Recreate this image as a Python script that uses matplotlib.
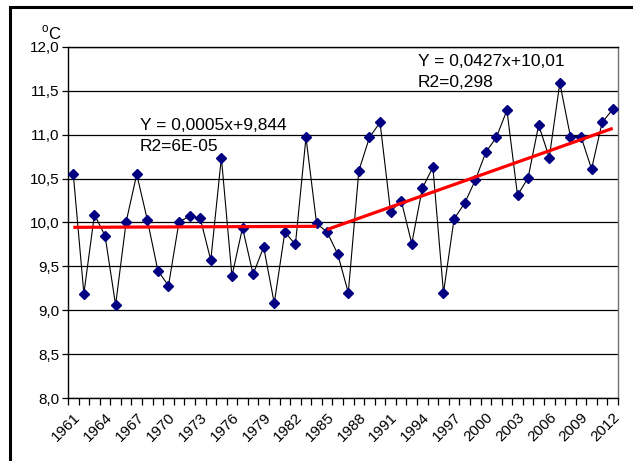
import matplotlib
matplotlib.use("Agg")
import matplotlib.pyplot as plt
from matplotlib.patches import Rectangle
import numpy as np

plt.rcParams['font.family'] = ['Liberation Sans', 'DejaVu Sans']
plt.rcParams['mathtext.fontset'] = 'custom'
plt.rcParams['mathtext.rm'] = 'Liberation Sans'

years = list(range(1961, 2013))
temps = [10.55, 9.19, 10.09, 9.85, 9.06, 10.01, 10.55, 10.03, 9.45, 9.28,
         10.01, 10.07, 10.05, 9.57, 10.74, 9.39, 9.94, 9.41, 9.72, 9.08,
         9.89, 9.75, 10.97, 9.99, 9.89, 9.64, 9.20, 10.59, 10.97, 11.14,
         10.12, 10.25, 9.76, 10.39, 10.63, 9.20, 10.04, 10.22, 10.48, 10.80,
         10.97, 11.28, 10.31, 10.51, 11.11, 10.74, 11.59, 10.98, 10.98, 10.61,
         11.14, 11.29]

# trend segments: (first year, last year, slope, value at first year)
trend1 = (1961, 1984, 0.0005, 9.945)
trend2 = (1985, 2012, 0.0427, 9.92)
eq1 = ["Y = 0,0005x+9,844", "R2=6E-05"]
eq2 = ["Y = 0,0427x+10,01", "R2=0,298"]

fig = plt.figure(figsize=(6.33, 4.61), dpi=100)
ax = fig.add_axes([68 / 633, 1 - 398 / 461, 550 / 633, 351 / 461])

x = np.arange(len(years))
ax.set_xlim(-0.5, len(years) - 0.5)
ax.set_ylim(8.0, 12.0)

yt = np.arange(8.0, 12.01, 0.5)
ax.set_yticks(yt)
ax.set_yticklabels([f"{v:.1f}".replace(".", ",") for v in yt], fontsize=11)
for v in yt:
    ax.axhline(v, color='black', lw=0.9, zorder=1)

# category ticks between points, labels every third year
ax.set_xticks(np.arange(-0.5, len(years), 1.0), minor=True)
ax.set_xticks(x[::3])
ax.set_xticklabels([str(y) for y in years[::3]], rotation=45, ha='right',
                   rotation_mode='anchor', fontsize=11)
ax.tick_params(axis='x', which='major', length=0, pad=9)
ax.tick_params(axis='x', which='minor', length=5, width=0.9, direction='out')
ax.tick_params(axis='y', length=4, width=0.9, direction='out', pad=2)

for side in ['left', 'bottom', 'top']:
    ax.spines[side].set_color('black')
    ax.spines[side].set_linewidth(1.0)
ax.spines['right'].set_color('#707070')
ax.spines['right'].set_linewidth(1.0)

ax.plot(x, temps, color='black', lw=0.8, zorder=3)
ax.plot(x, temps, linestyle='none', marker='D', markersize=5.5,
        color='#000080', zorder=4)

for y0, y1, slope, start in (trend1, trend2):
    seg = np.array([y0, y1])
    ax.plot(seg - years[0], start + slope * (seg - y0), color='red',
            lw=2.3, zorder=5, solid_capstyle='butt')

ax.text(6.3, 11.11, eq1[0], fontsize=12.5, va='center', ha='left')
ax.text(6.3, 10.87, eq1[1], fontsize=12.5, va='center', ha='left')
ax.text(32.6, 11.83, eq2[0], fontsize=12.5, va='center', ha='left')
ax.text(32.6, 11.59, eq2[1], fontsize=12.5, va='center', ha='left')

fig.text(62 / 633, 1 - 33 / 461, r"$^{\mathrm{o}}$C", fontsize=12,
         ha='right', va='center')

# outer chart border
fig.add_artist(Rectangle((9.5 / 633, -0.2), 1.2, 1.2 - 6.5 / 461,
                         transform=fig.transFigure, fill=False,
                         edgecolor='black', lw=2.2))

fig.savefig("out.png", dpi=100)
